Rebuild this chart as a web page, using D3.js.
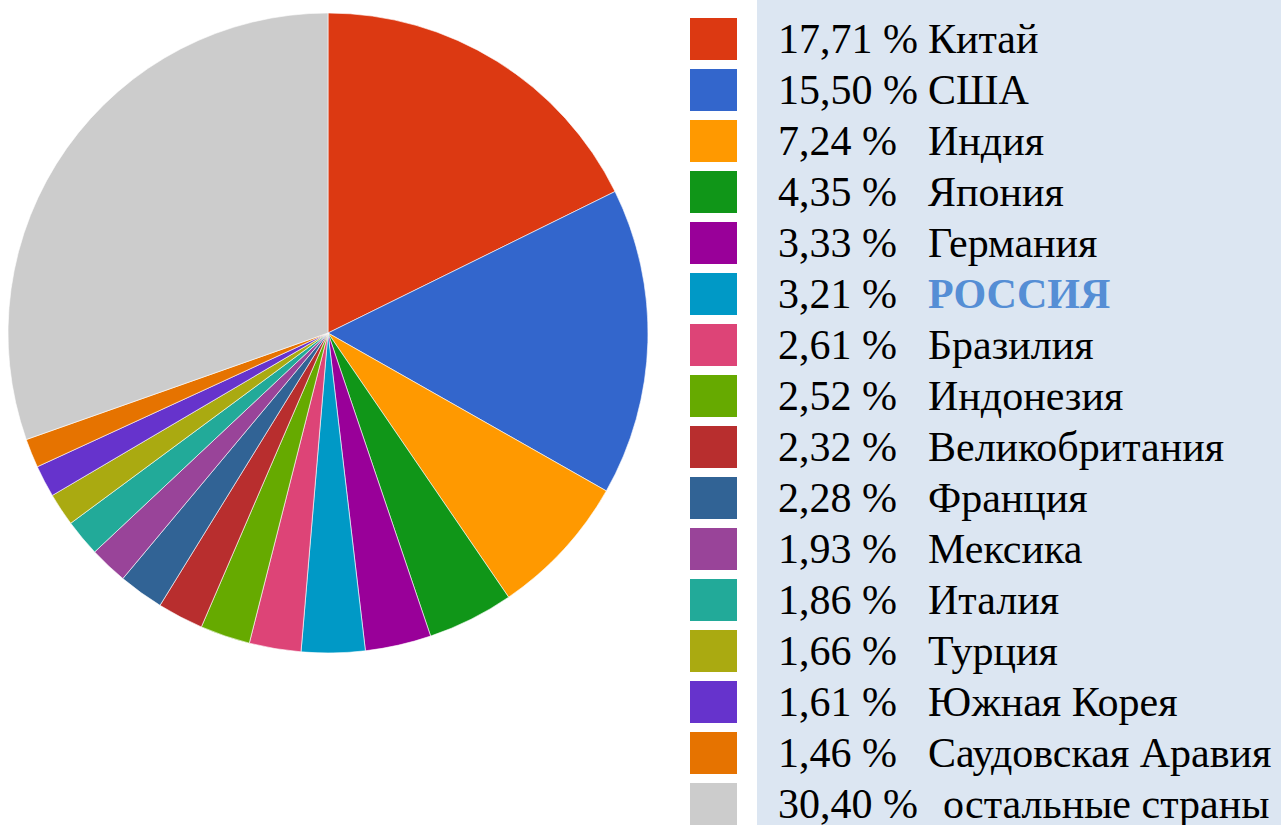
<!DOCTYPE html>
<html>
<head>
<meta charset="UTF-8">
<script src="https://cdn.jsdelivr.net/npm/d3@7"></script>
<style>
    body { margin: 0; }
    #wrap { position: relative; width: 1281px; height: 825px; }
    #wrap svg { position: absolute; left: 0; top: 0; }
    .lbl { position: absolute; font-family: "Liberation Serif", "Times New Roman", Times, serif; font-size: 42px; line-height: 42px; white-space: nowrap; color: #000; }
</style>
</head>
<body>
<div id="wrap"><svg width="1281" height="825"></svg></div>
<script>
    var countries = ["Китай", "США", "Индия", "Япония", "Германия", "РОССИЯ", "Бразилия", "Индонезия",
        "Великобритания", "Франция", "Мексика", "Италия", "Турция", "Южная Корея", "Саудовская Аравия",
        "остальные страны"];
    var shares = [17.71, 15.50, 7.24, 4.35, 3.33, 3.21, 2.61, 2.52, 2.32, 2.28, 1.93, 1.86, 1.66, 1.61, 1.46, 30.40];
    var shareLabels = ["17,71 %", "15,50 %", "7,24 %", "4,35 %", "3,33 %", "3,21 %", "2,61 %", "2,52 %",
        "2,32 %", "2,28 %", "1,93 %", "1,86 %", "1,66 %", "1,61 %", "1,46 %", "30,40 %"];
    var colors = ["#dc3912", "#3366cc", "#ff9900", "#109618", "#990099", "#0099c6", "#dd4477", "#66aa00",
        "#b82e2e", "#316395", "#994499", "#22aa99", "#aaaa11", "#6633cc", "#e67300", "#cccccc"];

    var svg = d3.select("svg");
    var wrap = d3.select("#wrap");

    // legend panel background
    svg.append("rect")
        .attr("x", 757).attr("y", 0)
        .attr("width", 524).attr("height", 825)
        .attr("fill", "#dce6f2");

    // pie
    var cx = 328, cy = 333, r = 320;
    var color = d3.scaleOrdinal().domain(countries).range(colors);
    var pie = d3.pie().sort(null).value(function (d) { return d.v; });
    var arc = d3.arc().innerRadius(0).outerRadius(r);

    var rows = countries.map(function (c, i) { return {name: c, v: shares[i], label: shareLabels[i]}; });

    svg.append("g")
        .attr("transform", "translate(" + cx + "," + cy + ")")
        .selectAll("path")
        .data(pie(rows))
        .enter()
        .append("path")
        .attr("d", arc)
        .attr("fill", function (d) { return color(d.data.name); })
        .attr("stroke", "#fff")
        .attr("stroke-width", 0.6);

    // legend rows, 51px apart
    var y = d3.scaleBand().domain(countries).range([14, 14 + 16 * 51]);

    svg.selectAll("rect.swatch")
        .data(rows)
        .enter()
        .append("rect")
        .attr("class", "swatch")
        .attr("x", 690)
        .attr("y", function (d) { return y(d.name) + 4; })
        .attr("width", 47)
        .attr("height", 42)
        .attr("fill", function (d) { return color(d.name); });

    // legend text as html labels
    wrap.selectAll("div.pct")
        .data(rows)
        .enter()
        .append("div")
        .attr("class", "lbl pct")
        .style("left", "778px")
        .style("top", function (d) { return (y(d.name) + 4) + "px"; })
        .text(function (d) { return d.label; });

    wrap.selectAll("div.name")
        .data(rows)
        .enter()
        .append("div")
        .attr("class", "lbl name")
        .style("left", function (d) { return (d.name === "остальные страны" ? 943 : 928) + "px"; })
        .style("top", function (d) { return (y(d.name) + 4) + "px"; })
        .style("font-weight", function (d) { return d.name === "РОССИЯ" ? "bold" : "normal"; })
        .style("color", function (d) { return d.name === "РОССИЯ" ? "#558ed5" : "#000"; })
        .text(function (d) { return d.name; });
</script>
</body>
</html>
